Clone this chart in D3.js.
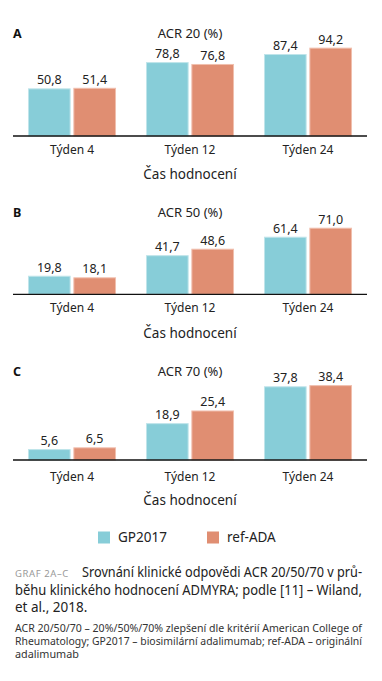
<!DOCTYPE html>
<html><head><meta charset="utf-8">
<script src="https://cdn.jsdelivr.net/npm/d3@7"></script>
<style>
html,body{margin:0;padding:0;background:#fff;}
svg{display:block;font-family:"Noto Sans",sans-serif;}
</style></head>
<body>
<svg id="c" width="382" height="681"></svg>
<script>
const categories = ["Týden 4", "Týden 12", "Týden 24"];
const seriesNames = ["GP2017", "ref-ADA"];
const acr20GP = [50.8, 78.8, 87.4];
const acr20Ref = [51.4, 76.8, 94.2];
const acr50GP = [19.8, 41.7, 61.4];
const acr50Ref = [18.1, 48.6, 71.0];
const acr70GP = [5.6, 18.9, 37.8];
const acr70Ref = [6.5, 25.4, 38.4];
const panelLetters = ["A", "B", "C"];
const panelTitles = ["ACR 20 (%)", "ACR 50 (%)", "ACR 70 (%)"];
const axisTitle = "Čas hodnocení";

const colors = ["#87cdd8", "#e08e72"];
const strokeColors = ["#bfe4ea", "#f0bfae"];
const svg = d3.select("#c");
const fmt = v => d3.format(".1f")(v).replace(".", ",");

const x0 = d3.scaleBand().domain(categories).range([13, 367]).paddingInner(0.254).paddingOuter(0.127);
const x1 = d3.scaleBand().domain(seriesNames).range([0, x0.bandwidth()]).paddingInner(0.06);

const panels = [
  {gp: acr20GP, ref: acr20Ref, base: 136, max: 100, h: 93.8, titleY: 37.5, tickY: 154, axY: 179},
  {gp: acr50GP, ref: acr50Ref, base: 294.3, max: 100, h: 93.8, titleY: 217.3, tickY: 312.3, axY: 337.7},
  {gp: acr70GP, ref: acr70Ref, base: 460, max: 40, h: 78, titleY: 376, tickY: 481, axY: 505}
];

panels.forEach((p, i) => {
  const g = svg.append("g");
  const y = d3.scaleLinear().domain([0, p.max]).range([p.base, p.base - p.h]);
  const rows = categories.map((c, j) => ({cat: c, vals: [p.gp[j], p.ref[j]]}));

  g.append("text").attr("x", 13).attr("y", p.titleY).attr("font-size", 12.5).attr("font-weight", 700)
    .attr("fill", "#111").text(panelLetters[i]);
  g.append("text").attr("x", 190).attr("y", p.titleY).attr("text-anchor", "middle").attr("font-size", 13)
    .attr("fill", "#222").text(panelTitles[i]);

  const grp = g.selectAll("g.grp").data(rows).join("g").attr("transform", d => `translate(${x0(d.cat)},0)`);
  grp.selectAll("rect").data(d => d.vals.map((v, k) => ({v, k})))
    .join("rect")
    .attr("x", d => x1(seriesNames[d.k]) + 0.5)
    .attr("width", x1.bandwidth() - 1)
    .attr("y", d => y(d.v) + 0.5)
    .attr("height", d => p.base - y(d.v) - 0.5)
    .attr("fill", d => colors[d.k])
    .attr("stroke", d => strokeColors[d.k]).attr("stroke-width", 1);
  grp.selectAll("text").data(d => d.vals.map((v, k) => ({v, k})))
    .join("text")
    .attr("x", d => x1(seriesNames[d.k]) + x1.bandwidth() / 2)
    .attr("y", d => y(d.v) - 4)
    .attr("text-anchor", "middle").attr("font-size", 12.5).attr("fill", "#222")
    .text(d => fmt(d.v));

  const ax = g.append("g").attr("transform", `translate(0,${p.base})`)
    .call(d3.axisBottom(x0).tickSize(0).tickPadding(0).tickSizeOuter(0));
  ax.select(".domain").attr("stroke", "#111").attr("stroke-width", 1.3).attr("d", "M13,0H367");
  ax.selectAll(".tick text").attr("y", p.tickY - p.base).attr("dy", 0)
    .attr("font-size", 12).attr("fill", "#222").attr("font-family", "Noto Sans");
  g.append("text").attr("x", 190).attr("y", p.axY).attr("text-anchor", "middle").attr("font-size", 13.5)
    .attr("fill", "#222").text(axisTitle);
});

// legend
const legX = [98, 207];
const leg = svg.append("g").selectAll("g").data(seriesNames).join("g")
  .attr("transform", (d, k) => `translate(${legX[k]},531.5)`);
leg.append("rect").attr("width", 12).attr("height", 12).attr("fill", (d, k) => colors[k]);
leg.append("text").attr("x", 20).attr("y", 10.5).attr("font-size", 13.5).attr("fill", "#222").text(d => d);

// caption
const cap = svg.append("g");
cap.append("text").attr("x", 15).attr("y", 577).attr("font-size", 9.5).attr("fill", "#999")
  .attr("letter-spacing", 0.6).text("GRAF 2A–C");
const capLines = [
  {x: 82, y: 577, w: 280, t: "Srovnání klinické odpovědi ACR 20/50/70 v prů-"},
  {x: 15, y: 595, w: 347, t: "běhu klinického hodnocení ADMYRA; podle [11] – Wiland,"},
  {x: 15, y: 612, w: null, t: "et al., 2018."}
];
capLines.forEach(l => {
  const t = cap.append("text").attr("x", l.x).attr("y", l.y).attr("font-size", 13.5).attr("fill", "#222").text(l.t);
  if (l.w) t.attr("textLength", l.w).attr("lengthAdjust", "spacingAndGlyphs");
});
const noteLines = [
  {y: 632, w: 347, t: "ACR 20/50/70 – 20%/50%/70% zlepšení dle kritérií American College of"},
  {y: 645, w: 347, t: "Rheumatology; GP2017 – biosimilární adalimumab; ref-ADA – originální"},
  {y: 658, w: null, t: "adalimumab"}
];
noteLines.forEach(l => {
  const t = cap.append("text").attr("x", 15).attr("y", l.y).attr("font-size", 10.8).attr("fill", "#333").text(l.t);
  if (l.w) t.attr("textLength", l.w).attr("lengthAdjust", "spacingAndGlyphs");
});
</script>
</body></html>
